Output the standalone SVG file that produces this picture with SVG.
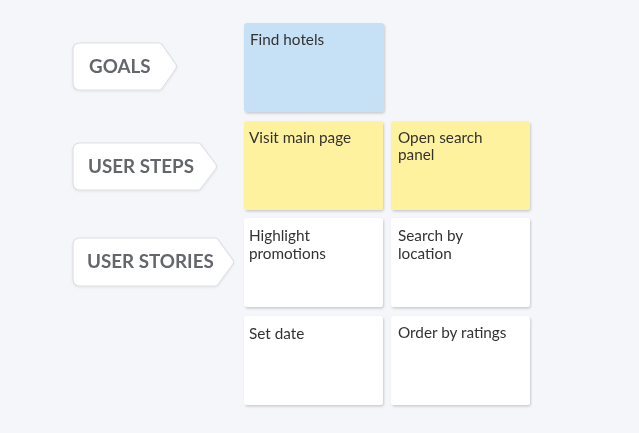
<svg xmlns="http://www.w3.org/2000/svg" width="639" height="433" viewBox="0 0 639 433">
<defs>
<filter id="sh" x="-10%" y="-10%" width="130%" height="130%">
<feDropShadow dx="1" dy="1.5" stdDeviation="1" flood-color="#000" flood-opacity="0.18"/>
</filter>
<filter id="tsh" x="-10%" y="-10%" width="130%" height="130%">
<feDropShadow dx="0" dy="1" stdDeviation="0.8" flood-color="#000" flood-opacity="0.08"/>
</filter>
</defs>
<style>
.tag{fill:#fff;stroke:#dcdfe4;stroke-width:1.2;stroke-linejoin:round}
.tagt{font-family:Lato,"Liberation Sans",sans-serif;font-weight:bold;font-size:18.8px;fill:#63666b}
.card{filter:url(#sh)}
.ct{font-family:Lato,"Liberation Sans",sans-serif;font-size:15.3px;fill:#333}
.blue{fill:#c6e0f5}
.yel{fill:#fef29e}
.wh{fill:#ffffff}
</style>
<rect width="639" height="433" fill="#f5f6fa"/>
<g id="label-goals" filter="url(#tsh)">
<path class="tag" d="M80,43 H159 Q161,43 162,44.5 L176,64.5 Q177,66.5 176,68.5 L162,88.5 Q161,90 159,90 H80 Q73,90 73,83 V50 Q73,43 80,43 Z"/>
<text class="tagt" x="89" y="73">GOALS</text>
</g>
<g id="label-user-steps" filter="url(#tsh)">
<path class="tag" d="M80,143 H198 Q200,143 201,144.5 L216,164.5 Q217,166.5 216,168.5 L201,188.5 Q200,190 198,190 H80 Q73,190 73,183 V150 Q73,143 80,143 Z"/>
<text class="tagt" x="88" y="173">USER STEPS</text>
</g>
<g id="label-user-stories" filter="url(#tsh)">
<path class="tag" d="M80,238 H215 Q217,238 218,239.5 L233,260 Q234,262 233,264 L218,284.5 Q217,286 215,286 H80 Q73,286 73,279 V245 Q73,238 80,238 Z"/>
<text class="tagt" x="87" y="268">USER STORIES</text>
</g>
<g id="card-find-hotels" class="card">
<rect class="blue" x="244" y="23" width="140" height="89" rx="3"/>
<text class="ct" x="250" y="45">Find hotels</text>
</g>
<g id="card-visit-main-page" class="card">
<rect class="yel" x="244" y="121" width="139" height="89" rx="3"/>
<text class="ct" x="249" y="143">Visit main page</text>
</g>
<g id="card-open-search-panel" class="card">
<rect class="yel" x="391" y="121" width="139" height="89" rx="3"/>
<text class="ct" x="398" y="143">Open search</text>
<text class="ct" x="398" y="160">panel</text>
</g>
<g id="card-highlight-promotions" class="card">
<rect class="wh" x="244" y="218" width="139" height="89" rx="3"/>
<text class="ct" x="249" y="241">Highlight</text>
<text class="ct" x="249" y="259">promotions</text>
</g>
<g id="card-search-by-location" class="card">
<rect class="wh" x="391" y="218" width="139" height="89" rx="3"/>
<text class="ct" x="398" y="241">Search by</text>
<text class="ct" x="398" y="259">location</text>
</g>
<g id="card-set-date" class="card">
<rect class="wh" x="244" y="316" width="139" height="89" rx="3"/>
<text class="ct" x="249" y="339">Set date</text>
</g>
<g id="card-order-by-ratings" class="card">
<rect class="wh" x="391" y="316" width="139" height="89" rx="3"/>
<text class="ct" x="398" y="338">Order by ratings</text>
</g>
<g id="connectors"></g>
</svg>
